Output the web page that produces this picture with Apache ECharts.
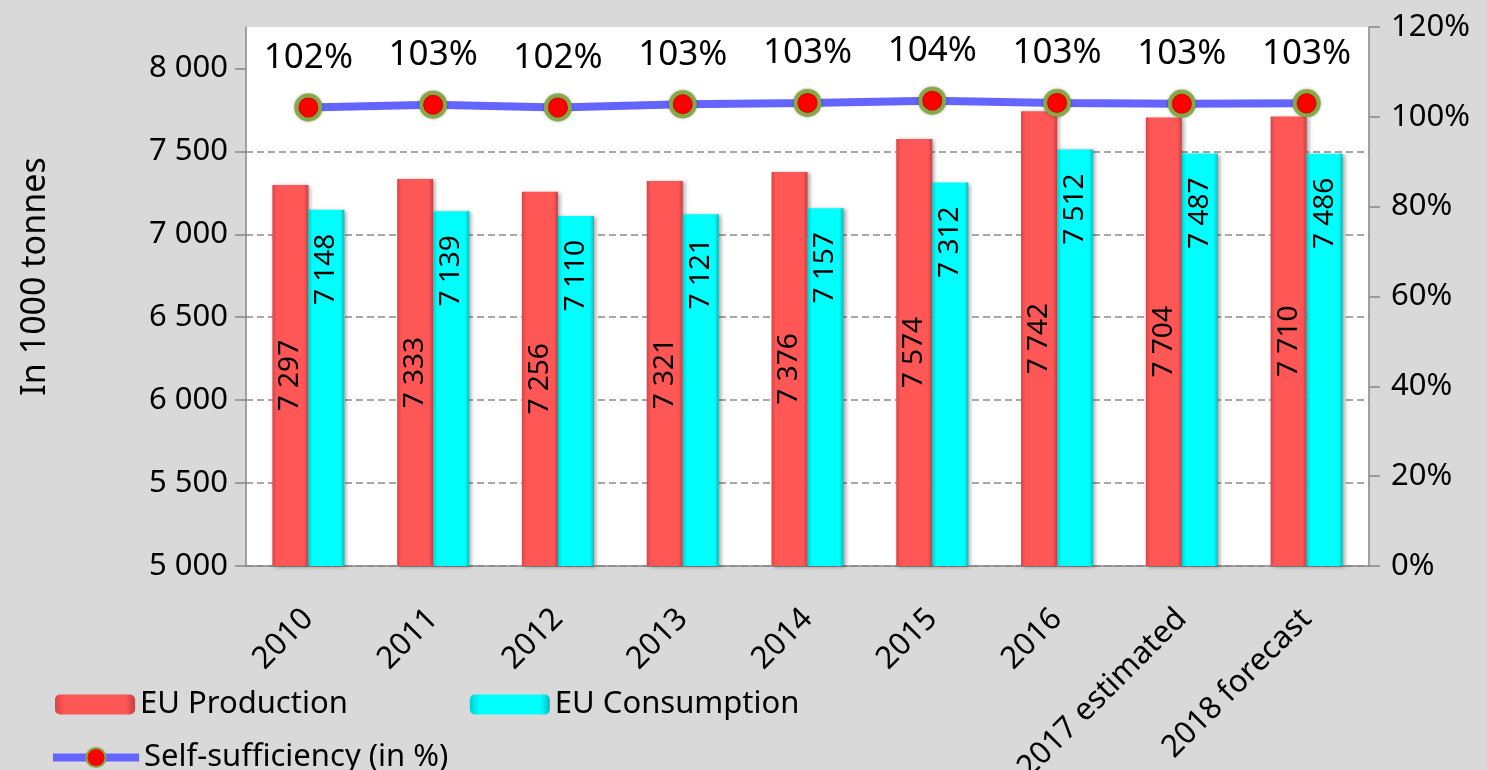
<!DOCTYPE html>
<html>
<head>
<meta charset="utf-8">
<script src="https://cdn.jsdelivr.net/npm/echarts@6/dist/echarts.min.js"></script>
<style>
html,body{margin:0;padding:0;background:#D9D9D9;}
#chart{width:1487px;height:770px;}
</style>
</head>
<body>
<div id="chart"></div>
<script>
var categories = ['2010','2011','2012','2013','2014','2015','2016','2017 estimated','2018 forecast'];
var production = [7297,7333,7256,7321,7376,7574,7742,7704,7710];
var consumption = [7148,7139,7110,7121,7157,7312,7512,7487,7486];
var selfSufficiency = [102.1,102.7,102.1,102.8,103.1,103.6,103.1,102.9,103.0];
var leftTicks = [5000,5500,6000,6500,7000,7500,8000];

var FONT = 'Noto Sans';
function fmtThousands(v){
  var s = String(Math.round(v));
  return s.replace(/\B(?=(\d{3})+(?!\d))/g, ' ');
}

var chart = echarts.init(document.getElementById('chart'));
var option = {
  backgroundColor: '#D9D9D9',
  animation: false,
  textStyle: {fontFamily: FONT},
  grid: {
    left: 246, right: 118, top: 27, bottom: 204,
    outerBoundsMode: 'none', containLabel: false,
    show: true, backgroundColor: '#FFFFFF', borderWidth: 0
  },
  legend: [{
    data: ['EU Production','EU Consumption'],
    left: 50, top: 684,
    itemWidth: 80, itemHeight: 20, itemGap: 122,
    textStyle: {fontFamily: FONT, fontSize: 31, color: '#000'}
  },{
    data: ['Self-sufficiency (in %)'],
    left: 44, top: 737,
    itemWidth: 86, itemHeight: 24,
    lineStyle: {width: 8, color: '#6464FF'},
    textStyle: {fontFamily: FONT, fontSize: 31, color: '#000'}
  }],
  xAxis: {
    type: 'category',
    data: categories,
    axisLine: {lineStyle: {color: '#868686', width: 1.5}},
    axisTick: {length: 10, lineStyle: {color: '#868686', width: 1.5}},
    axisLabel: {
      rotate: 45, margin: 48, interval: 0,
      fontFamily: FONT, fontSize: 31, color: '#000'
    }
  },
  yAxis: [{
    type: 'value',
    min: 5000, max: 8250, interval: 500,
    name: 'In 1000 tonnes',
    nameLocation: 'middle',
    nameGap: 194,
    nameTextStyle: {fontFamily: FONT, fontSize: 34, color: '#000', padding: [0,0,0,40]},
    axisLine: {show: true, lineStyle: {color: '#868686', width: 1.5}},
    axisTick: {show: true, length: 11, customValues: leftTicks, lineStyle: {color: '#868686', width: 1.5}},
    axisLabel: {
      customValues: leftTicks,
      margin: 18,
      fontFamily: FONT, fontSize: 31, color: '#000',
      formatter: function(v){ return fmtThousands(v); }
    },
    splitLine: {show: true, showMaxLine: false, lineStyle: {color: '#8C8C8C', type: [7,4], width: 1.5}}
  },{
    type: 'value',
    min: 0, max: 120, interval: 20,
    position: 'right',
    axisLine: {show: true, lineStyle: {color: '#868686', width: 1.5}},
    axisTick: {show: true, length: 11, lineStyle: {color: '#868686', width: 1.5}},
    axisLabel: {
      margin: 22,
      fontFamily: FONT, fontSize: 31, color: '#000',
      formatter: '{value}%'
    },
    splitLine: {show: false}
  }],
  series: [{
    name: 'EU Production',
    type: 'bar',
    data: production,
    barWidth: 36,
    barGap: '0%',
    itemStyle: {
      color: new echarts.graphic.LinearGradient(0,0,1,0,[
        {offset:0, color:'#D84545'},
        {offset:0.12, color:'#FF5656'},
        {offset:0.88, color:'#FF5656'},
        {offset:1, color:'#C84040'}
      ]),
      shadowBlur: 4, shadowColor: 'rgba(0,0,0,0.35)', shadowOffsetX: 2, shadowOffsetY: 1
    },
    label: {
      show: true, position: 'inside', rotate: 90,
      align: 'center', verticalAlign: 'middle',
      fontFamily: FONT, fontSize: 28, color: '#000',
      formatter: function(p){ return fmtThousands(p.value); }
    }
  },{
    name: 'EU Consumption',
    type: 'bar',
    data: consumption,
    barWidth: 36,
    itemStyle: {
      color: new echarts.graphic.LinearGradient(0,0,1,0,[
        {offset:0, color:'#00CFCF'},
        {offset:0.12, color:'#00FFFF'},
        {offset:0.88, color:'#00FFFF'},
        {offset:1, color:'#00BFBF'}
      ]),
      shadowBlur: 4, shadowColor: 'rgba(0,0,0,0.35)', shadowOffsetX: 2, shadowOffsetY: 1
    },
    label: {
      show: true, position: 'insideTop', distance: 24, rotate: 90,
      align: 'right', verticalAlign: 'middle',
      fontFamily: FONT, fontSize: 28, color: '#000',
      formatter: function(p){ return fmtThousands(p.value); }
    }
  },{
    name: 'Self-sufficiency (in %)',
    type: 'line',
    yAxisIndex: 1,
    data: selfSufficiency,
    z: 5,
    symbol: 'circle',
    symbolSize: 24,
    lineStyle: {color: '#6464FF', width: 8},
    itemStyle: {
      color: '#FF0000', borderColor: '#86A845', borderWidth: 4,
      shadowBlur: 3, shadowColor: 'rgba(0,0,0,0.35)'
    },
    label: {
      show: true, position: 'top', distance: 18,
      fontFamily: FONT, fontSize: 35, color: '#000',
      formatter: function(p){ return Math.round(p.value) + '%'; }
    }
  }]
};
chart.setOption(option);
</script>
</body>
</html>
